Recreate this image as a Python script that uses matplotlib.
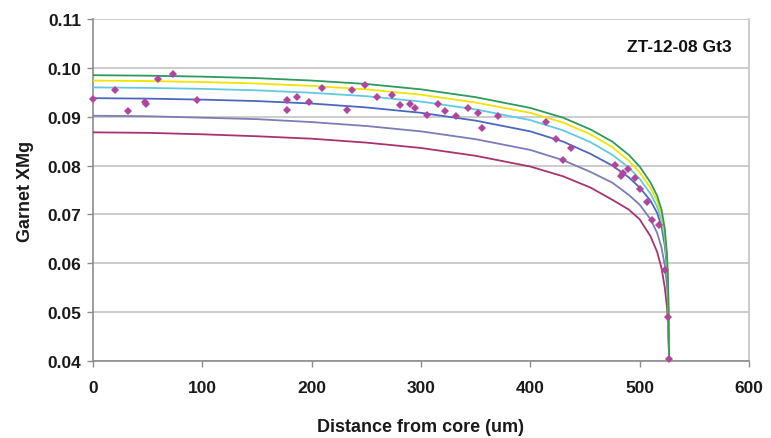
import matplotlib
matplotlib.use("Agg")
import matplotlib.pyplot as plt

# Measured garnet XMg along the core-to-rim traverse
dist_um = [0, 20.4, 32.4, 47.5, 48.5, 59.8, 73.1, 95.5, 177.1, 177.7, 186.6,
           197.9, 209.2, 232.7, 236.9, 248.6, 259.5, 273.8, 280.5, 289.7,
           294.6, 305.9, 315.6, 322.0, 331.8, 342.7, 352.2, 356.2, 370.3,
           414.2, 423.3, 430.3, 437.3, 477.6, 482.8, 485.2, 489.1, 495.3,
           500.4, 506.5, 511.7, 517.8, 523.3, 525.7, 527.2]
xmg = [0.0936, 0.0955, 0.0911, 0.0931, 0.0926, 0.0978, 0.0987, 0.0934,
       0.0935, 0.0914, 0.0941, 0.0930, 0.0959, 0.0914, 0.0955, 0.0965,
       0.0941, 0.0945, 0.0923, 0.0927, 0.0917, 0.0904, 0.0927, 0.0912,
       0.0902, 0.0917, 0.0908, 0.0876, 0.0902, 0.0889, 0.0855, 0.0811,
       0.0835, 0.0801, 0.0778, 0.0785, 0.0792, 0.0774, 0.0753, 0.0725,
       0.0689, 0.0679, 0.0586, 0.0491, 0.0405]

# Modelled diffusion profiles, sampled at common distances
model_x = [0, 50, 100, 150, 200, 250, 300, 350, 400, 430, 455, 475, 490,
           500, 510, 516, 520, 523, 525, 526, 527]
model_green = [0.0985, 0.0984, 0.0982, 0.0979, 0.0974, 0.0967, 0.0956, 0.0940,
               0.0918, 0.0898, 0.0874, 0.0849, 0.0822, 0.0798, 0.0765, 0.0738,
               0.0710, 0.0670, 0.0618, 0.0560, 0.0400]
model_yellow = [0.0974, 0.0973, 0.0971, 0.0968, 0.0963, 0.0956, 0.0945, 0.0929,
                0.0908, 0.0888, 0.0864, 0.0838, 0.0810, 0.0786, 0.0754, 0.0728,
                0.0700, 0.0660, 0.0610, 0.0552, 0.0400]
model_cyan = [0.0960, 0.0959, 0.0957, 0.0954, 0.0949, 0.0942, 0.0931, 0.0915,
              0.0893, 0.0872, 0.0848, 0.0822, 0.0796, 0.0773, 0.0742, 0.0716,
              0.0689, 0.0650, 0.0600, 0.0545, 0.0400]
model_blue = [0.0938, 0.0937, 0.0935, 0.0932, 0.0927, 0.0919, 0.0908, 0.0892,
              0.0870, 0.0849, 0.0824, 0.0800, 0.0776, 0.0755, 0.0728, 0.0703,
              0.0675, 0.0636, 0.0590, 0.0535, 0.0400]
model_slate = [0.0902, 0.0901, 0.0898, 0.0895, 0.0889, 0.0881, 0.0870, 0.0854,
               0.0832, 0.0811, 0.0787, 0.0765, 0.0740, 0.0720, 0.0690, 0.0662,
               0.0632, 0.0595, 0.0555, 0.0510, 0.0400]
model_magenta = [0.0868, 0.0867, 0.0864, 0.0860, 0.0855, 0.0847, 0.0836, 0.0820,
                 0.0798, 0.0778, 0.0755, 0.0730, 0.0710, 0.0690, 0.0655, 0.0623,
                 0.0590, 0.0550, 0.0510, 0.0470, 0.0400]

x_ticks = [0, 100, 200, 300, 400, 500, 600]
y_ticks = [0.04, 0.05, 0.06, 0.07, 0.08, 0.09, 0.10, 0.11]
sample_label = "ZT-12-08 Gt3"

plt.rcParams['font.family'] = ['Liberation Sans', 'DejaVu Sans']
plt.rcParams['font.weight'] = 'bold'

fig = plt.figure(figsize=(7.71, 4.39), dpi=100)
ax = fig.add_axes([93 / 771, 1 - 362 / 439, (749 - 93) / 771, (362 - 20) / 439])

curves = [
    (model_magenta, '#A8336F'),
    (model_slate, '#7C7CB6'),
    (model_blue, '#4C68BE'),
    (model_cyan, '#62C9E3'),
    (model_yellow, '#F0E400'),
    (model_green, '#2E9A5C'),
]
for ys, col in curves:
    ax.plot(model_x, ys, color=col, lw=1.3, zorder=3, clip_on=True)

ax.plot(dist_um, xmg, linestyle='none', marker='D', markersize=4.2,
        color='#B0449E', markeredgewidth=0, zorder=4, clip_on=False)

ax.set_xlim(0, 600)
ax.set_ylim(0.04, 0.11)
ax.set_xticks(x_ticks)
ax.set_yticks(y_ticks)
ax.set_xticklabels([str(v) for v in x_ticks])
ax.set_yticklabels([f"{v:.2f}" for v in y_ticks])

ax.yaxis.grid(True, color='#C4C4C4', lw=1.2, zorder=0)
ax.xaxis.grid(False)
ax.set_axisbelow(True)

for side in ['left', 'bottom']:
    ax.spines[side].set_color('#8C8C8C')
    ax.spines[side].set_linewidth(1.2)
ax.spines['right'].set_color('#C4C4C4')
ax.spines['right'].set_linewidth(1.2)
ax.spines['top'].set_visible(False)

ax.tick_params(axis='x', direction='out', length=4.5, width=1, color='#8C8C8C',
               labelsize=12.5, pad=9)
ax.tick_params(axis='y', direction='out', length=4.5, width=1, color='#8C8C8C',
               labelsize=12.5, pad=4)
for lab in ax.get_xticklabels() + ax.get_yticklabels():
    lab.set_fontweight('bold')
    lab.set_color('#1a1a1a')

fig.text(421 / 771, 1 - 428 / 439, "Distance from core (um)", ha='center',
         va='center', fontsize=13, fontweight='bold', color='#1a1a1a')
fig.text(25 / 771, 1 - 191 / 439, "Garnet XMg", ha='center', va='center',
         rotation=90, fontsize=13, fontweight='bold', color='#1a1a1a')

ax.text(0.974, 0.921, sample_label, transform=ax.transAxes, ha='right',
        va='center', fontsize=12.5, fontweight='bold', color='#111111')

fig.savefig("out.png", dpi=100)
